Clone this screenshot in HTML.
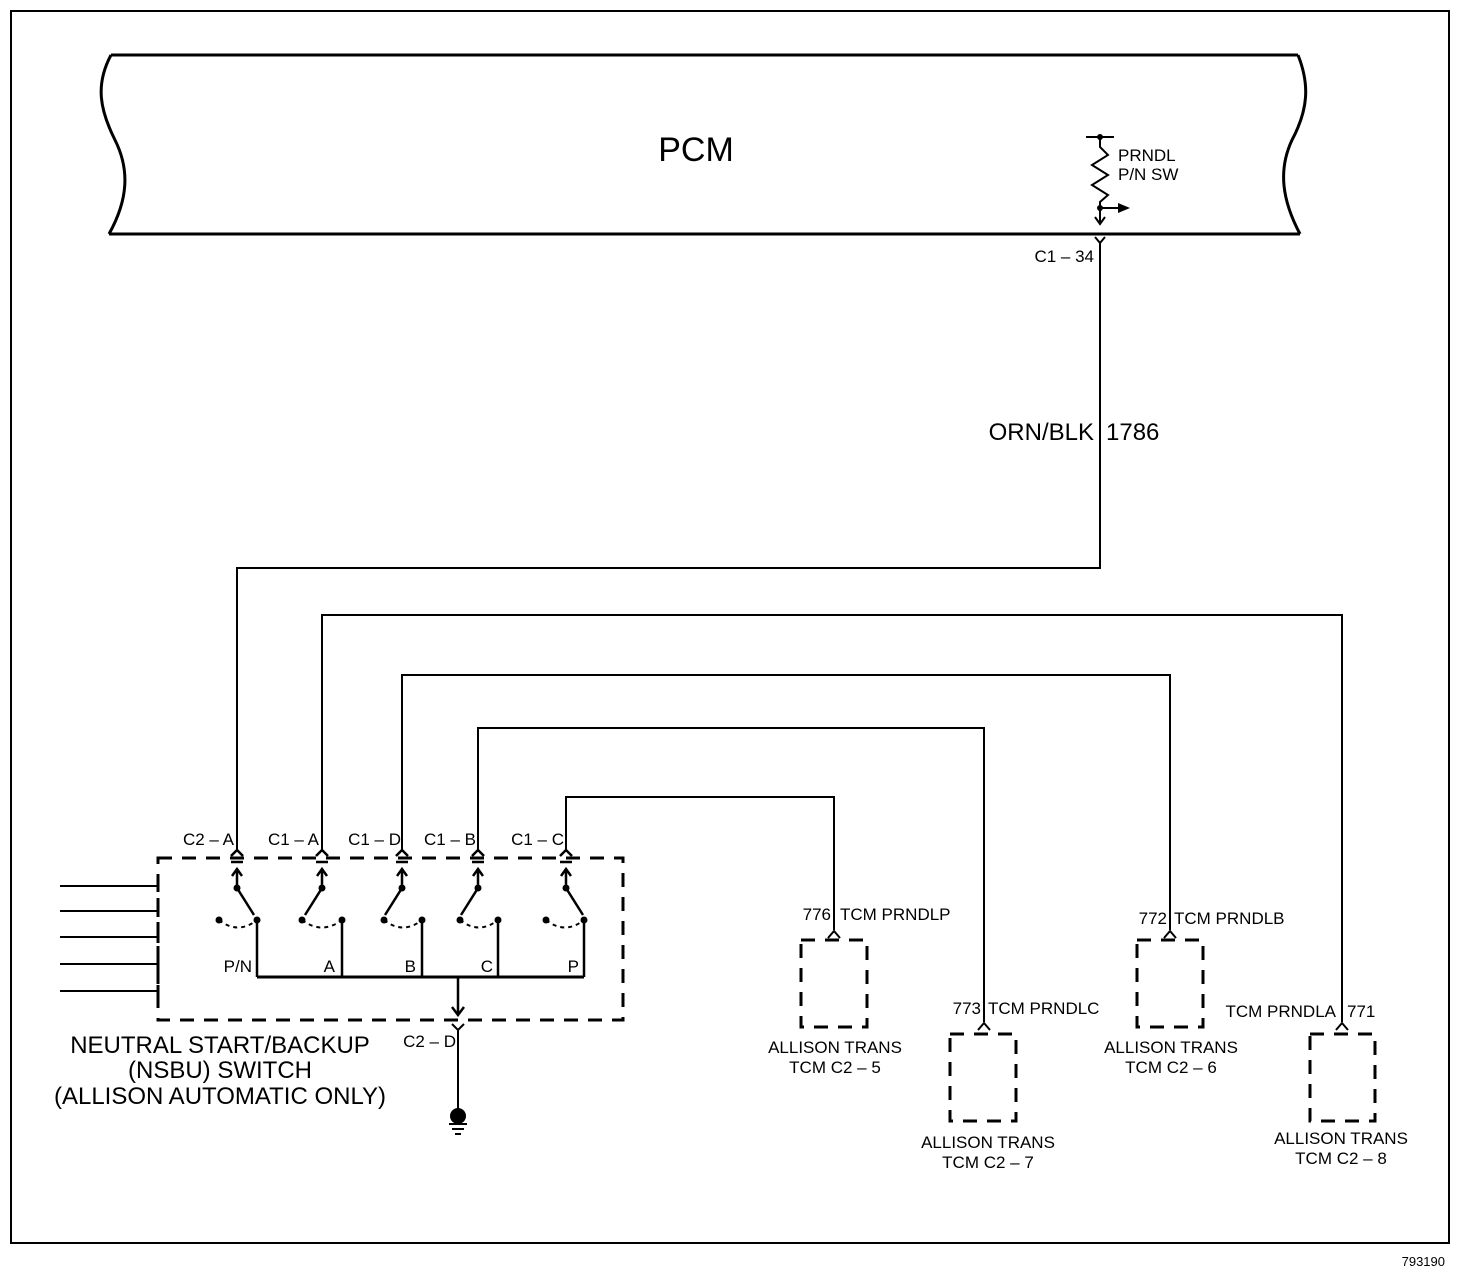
<!DOCTYPE html>
<html><head><style>body{margin:0;background:#fff}svg{display:block}text{font-family:"Liberation Sans",Arial,sans-serif;fill:#000}</style></head>
<body>
<svg width="1472" height="1278" viewBox="0 0 1472 1278" xmlns="http://www.w3.org/2000/svg">
<rect x="0" y="0" width="1472" height="1278" fill="#fff"/>
<g fill="none" stroke="#000" stroke-width="2">
<rect x="11" y="11" width="1438" height="1232"/>
<path d="M111 55 L1298 55" stroke-width="3"/>
<path d="M109 234 L1300 234" stroke-width="3"/>
<path d="M111 55 C95 85,100 110,115 140 C130 170,128 200,109 234" stroke-width="3"/>
<path d="M1298 55 C1310 85,1308 110,1292 140 C1278 170,1282 200,1300 234" stroke-width="3"/>
<path d="M1086 137 L1114 137"/>
<path d="M1100 137 L1100 147 L1108 155 L1092 165 L1108 175 L1092 185 L1108 195 L1100 202 L1100 222"/>
<path d="M1100 208 L1118 208"/>
<path d="M1095 217 L1100 224 L1105 217"/>
<path d="M1095 237 L1100 243 L1105 237"/>
<path d="M1100 243 L1100 568 L237 568 L237 850"/>
<path d="M322 850 L322 615 L1342 615 L1342 1022"/>
<path d="M402 850 L402 675 L1170 675 L1170 930"/>
<path d="M478 850 L478 728 L984 728 L984 1022"/>
<path d="M566 850 L566 797 L834 797 L834 930"/>
<path d="M828 938 L834 931 L840 938"/>
<path d="M1164 938 L1170 931 L1176 938"/>
<path d="M978 1030 L984 1023 L990 1030"/>
<path d="M1336 1030 L1342 1023 L1348 1030"/>
<g stroke-width="3" stroke-dasharray="14 10">
<rect x="801" y="940" width="66" height="87"/>
<rect x="950" y="1034" width="66" height="87"/>
<rect x="1137" y="940" width="66" height="87"/>
<rect x="1310" y="1034" width="65" height="87"/>
<rect x="158" y="858" width="465" height="162"/>
</g>
<path d="M60 886 L158 886 M60 911 L158 911 M60 937 L158 937 M60 964 L158 964 M60 991 L158 991"/>
<path d="M158 880 V892 M158 905 V917 M158 931 V943 M158 958 V970 M158 985 V997" stroke-width="3"/>
<path d="M257 977 L584 977" stroke-width="3"/>
<path d="M458 977 L458 1015" stroke-width="2.5"/>
<path d="M452 1007 L458 1015 L464 1007" stroke-width="2.5"/>
<path d="M452 1024 L458 1030 L464 1024"/>
<path d="M458 1030 L458 1112"/>
<path d="M449 1124 L467 1124 M452 1129 L464 1129 M455 1134 L461 1134"/>
</g>
<circle cx="458" cy="1116" r="8" fill="#000"/>
<circle cx="1100" cy="137" r="3" fill="#000"/>
<circle cx="1100" cy="208" r="3" fill="#000"/>
<polygon points="1118,203 1130,208 1118,213" fill="#000"/>
<g stroke="#000" stroke-width="2.5" fill="none">
<path d="M231 856 L237 850 L243 856 M231 862 L243 862"/>
<path d="M316 856 L322 850 L328 856 M316 862 L328 862"/>
<path d="M396 856 L402 850 L408 856 M396 862 L408 862"/>
<path d="M472 856 L478 850 L484 856 M472 862 L484 862"/>
<path d="M560 856 L566 850 L572 856 M560 862 L572 862"/>
<path d="M237 888 V870 M232 876 L237 869 L242 876 M237 888 L254 915"/>
<path d="M322 888 V870 M317 876 L322 869 L327 876 M322 888 L305 915"/>
<path d="M402 888 V870 M397 876 L402 869 L407 876 M402 888 L385 915"/>
<path d="M478 888 V870 M473 876 L478 869 L483 876 M478 888 L461 915"/>
<path d="M566 888 V870 M561 876 L566 869 L571 876 M566 888 L583 915"/>
<path d="M257 920 V977 M342 920 V977 M422 920 V977 M498 920 V977 M584 920 V977"/>
</g>
<g fill="none" stroke="#000" stroke-width="2" stroke-dasharray="4 4">
<path d="M219 920 Q238 935 257 920"/>
<path d="M302 920 Q322 935 342 920"/>
<path d="M384 920 Q403 935 422 920"/>
<path d="M460 920 Q479 935 498 920"/>
<path d="M546 920 Q565 935 584 920"/>
</g>
<g fill="#000">
<circle cx="237" cy="888" r="3.5"/><circle cx="322" cy="888" r="3.5"/><circle cx="402" cy="888" r="3.5"/><circle cx="478" cy="888" r="3.5"/><circle cx="566" cy="888" r="3.5"/>
<circle cx="219" cy="920" r="3.5"/><circle cx="257" cy="920" r="3.5"/><circle cx="302" cy="920" r="3.5"/><circle cx="342" cy="920" r="3.5"/><circle cx="384" cy="920" r="3.5"/><circle cx="422" cy="920" r="3.5"/><circle cx="460" cy="920" r="3.5"/><circle cx="498" cy="920" r="3.5"/><circle cx="546" cy="920" r="3.5"/><circle cx="584" cy="920" r="3.5"/>
</g>
<text x="696" y="161" font-size="34" text-anchor="middle">PCM</text>
<text x="1118" y="161" font-size="17">PRNDL</text>
<text x="1118" y="180" font-size="17">P/N SW</text>
<text x="1094" y="262" font-size="17" text-anchor="end">C1 – 34</text>
<text x="1094" y="440" font-size="24" text-anchor="end">ORN/BLK</text>
<text x="1106" y="440" font-size="24">1786</text>
<g font-size="17" text-anchor="end">
<text x="234" y="845">C2 – A</text>
<text x="319" y="845">C1 – A</text>
<text x="401" y="845">C1 – D</text>
<text x="476" y="845">C1 – B</text>
<text x="564" y="845">C1 – C</text>
<text x="252" y="972">P/N</text>
<text x="335" y="972">A</text>
<text x="416" y="972">B</text>
<text x="493" y="972">C</text>
<text x="579" y="972">P</text>
<text x="456" y="1047">C2 – D</text>
<text x="831" y="920">776</text>
<text x="981" y="1014">773</text>
<text x="1167" y="924">772</text>
<text x="1336" y="1017">TCM PRNDLA</text>
</g>
<g font-size="17">
<text x="840" y="920">TCM PRNDLP</text>
<text x="988" y="1014">TCM PRNDLC</text>
<text x="1174" y="924">TCM PRNDLB</text>
<text x="1347" y="1017">771</text>
</g>
<g font-size="17" text-anchor="middle">
<text x="835" y="1053">ALLISON TRANS</text><text x="835" y="1073">TCM C2 – 5</text>
<text x="988" y="1148">ALLISON TRANS</text><text x="988" y="1168">TCM C2 – 7</text>
<text x="1171" y="1053">ALLISON TRANS</text><text x="1171" y="1073">TCM C2 – 6</text>
<text x="1341" y="1144">ALLISON TRANS</text><text x="1341" y="1164">TCM C2 – 8</text>
</g>
<g font-size="24" text-anchor="middle">
<text x="220" y="1053">NEUTRAL START/BACKUP</text>
<text x="220" y="1078">(NSBU) SWITCH</text>
<text x="220" y="1104">(ALLISON AUTOMATIC ONLY)</text>
</g>
<text x="1445" y="1266" font-size="13" text-anchor="end">793190</text>
</svg>
</body></html>
